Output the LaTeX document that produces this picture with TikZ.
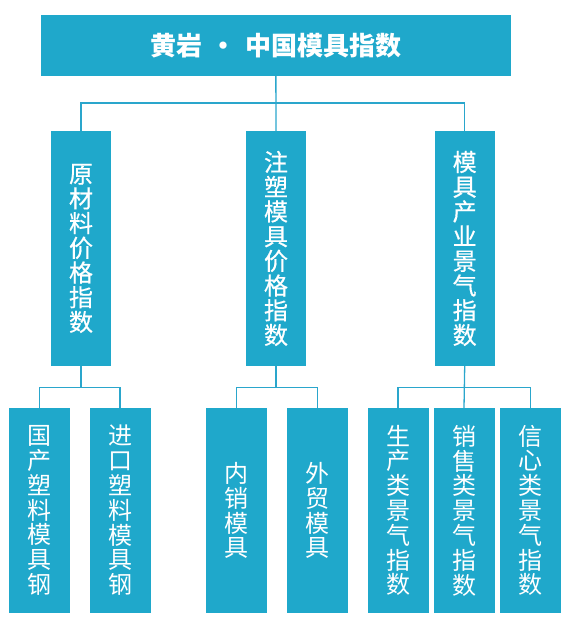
\documentclass[tikz,border=0pt]{standalone}
\usepackage{fontspec}
\newfontfamily\cjk{Noto Sans CJK SC}
\newfontfamily\cjkmid[FakeBold=0.6]{Noto Sans CJK SC}
\usetikzlibrary{positioning}
\definecolor{boxblue}{HTML}{1FA8CB}
\definecolor{lineblue}{HTML}{2AA6CC}
\tikzset{
  titlebox/.style={fill=boxblue, draw=none, inner sep=0pt, minimum width=470.3pt, minimum height=60.7pt, text=white, font=\cjk\bfseries\fontsize{26}{28}\selectfont},
  midbox/.style={fill=boxblue, draw=none, inner sep=0pt, minimum width=60pt, minimum height=235pt, text=white, align=center, font=\cjkmid\fontsize{24}{24.7}\selectfont},
  leafbox/.style={fill=boxblue, draw=none, inner sep=0pt, minimum width=61pt, minimum height=205pt, text=white, align=center, font=\cjk\fontsize{24}{24.8}\selectfont},
  wire/.style={draw=lineblue, line width=1.3pt}
}
\begin{document}
\begin{tikzpicture}[x=1pt, y=-1pt]
\useasboundingbox (0,0) rectangle (569,623);
\node[titlebox] (top) at (275.85,45.65) {黄岩\hspace{8pt}·\hspace{9pt}中国模具指数};

\node[midbox] (m1) at (81,248.5) {原\\材\\料\\价\\格\\指\\数};
\node[midbox] (m2) at (276,248.5) {注\\塑\\模\\具\\价\\格\\指\\数};
\node[midbox] (m3) at (464.7,248.5) {模\\具\\产\\业\\景\\气\\指\\数};

\node[leafbox] (a1) at (39.5,510.5) {国\\产\\塑\\料\\模\\具\\钢};
\node[leafbox] (a2) at (120,510.5) {进\\口\\塑\\料\\模\\具\\钢};
\node[leafbox] (b1) at (236.5,510.5) {内\\销\\模\\具};
\node[leafbox] (b2) at (317.5,510.5) {外\\贸\\模\\具};
\node[leafbox] (c1) at (398,510.5) {生\\产\\类\\景\\气\\指\\数};
\node[leafbox] (c2) at (464,510.5) {销\\售\\类\\景\\气\\指\\数};
\node[leafbox] (c3) at (530.5,510.5) {信\\心\\类\\景\\气\\指\\数};

\coordinate (bus0) at (0,103);
\coordinate (bus1) at (0,387.7);

\draw[wire] (top.south) -- (m2.north);
\draw[wire] (m1.north) -- (m1.north |- bus0) -- (m3.north |- bus0) -- (m3.north);

\draw[wire] (m1.south) -- (m1.south |- bus1);
\draw[wire] (a1.north) -- (a1.north |- bus1) -- (a2.north |- bus1) -- (a2.north);

\draw[wire] (m2.south) -- (m2.south |- bus1);
\draw[wire] (b1.north) -- (b1.north |- bus1) -- (b2.north |- bus1) -- (b2.north);

\draw[wire] (m3.south) -- (c2.north);
\draw[wire] (c1.north) -- (c1.north |- bus1) -- (c3.north |- bus1) -- (c3.north);
\end{tikzpicture}
\end{document}
